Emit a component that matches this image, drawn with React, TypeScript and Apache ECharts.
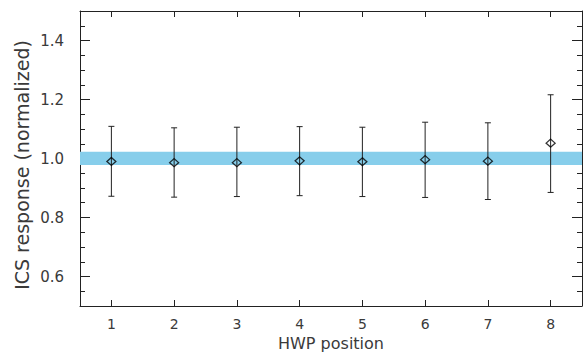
import React, { useEffect, useRef } from "react";
import * as echarts from "echarts";

const positions = ["1", "2", "3", "4", "5", "6", "7", "8"];
const responses = [0.990, 0.986, 0.986, 0.992, 0.989, 0.996, 0.991, 1.052];
const errUpper = [1.109, 1.104, 1.106, 1.108, 1.106, 1.123, 1.121, 1.216];
const errLower = [0.872, 0.869, 0.871, 0.874, 0.871, 0.868, 0.861, 0.885];
const bandRange = [0.978, 1.023];
const yTickLabels = ["0.6", "0.8", "1.0", "1.2", "1.4"];
const xTitle = "HWP position";
const yTitle = "ICS response (normalized)";

const FONT = "DejaVu Sans";
const TEXT = "#3a3a3a";
const AXIS = "#222";

export default function App() {
  const ref = useRef<HTMLDivElement>(null);
  useEffect(() => {
    document.body.style.margin = "0";
    const chart = echarts.init(ref.current!, null, { renderer: "svg" });
    const yCommon = {
      type: "value",
      min: 0.5,
      max: 1.5,
      splitNumber: 5,
      axisLine: { show: true, lineStyle: { color: AXIS, width: 1 } },
      axisTick: { show: true, inside: true, length: 10, lineStyle: { color: AXIS } },
      minorTick: { show: true, splitNumber: 4, length: 5, lineStyle: { color: AXIS } },
      splitLine: { show: false },
      minorSplitLine: { show: false },
    };
    const xCommon = {
      type: "category",
      data: positions,
      boundaryGap: true,
      axisLine: { show: true, lineStyle: { color: AXIS, width: 1 } },
      axisTick: { show: true, inside: true, length: 6, alignWithLabel: true, lineStyle: { color: AXIS } },
      splitLine: { show: false },
    };
    chart.setOption({
      animation: false,
      backgroundColor: "#fff",
      grid: { left: 80, right: 1, top: 11, bottom: 57, containLabel: false },
      graphic: [
        {
          type: "text",
          x: 22,
          y: 165,
          rotation: Math.PI / 2,
          style: {
            text: yTitle,
            fontFamily: FONT,
            fontSize: 19,
            fill: TEXT,
            align: "center",
            verticalAlign: "middle",
          },
        },
      ],
      xAxis: [
        {
          ...xCommon,
          position: "bottom",
          name: xTitle,
          nameLocation: "middle",
          nameGap: 29,
          nameMoveOverlap: false,
          nameTextStyle: { fontFamily: FONT, fontSize: 16, color: TEXT },
          axisLabel: { show: true, margin: 11, fontFamily: FONT, fontSize: 14, color: TEXT },
        },
        {
          ...xCommon,
          position: "top",
          axisLabel: { show: false },
        },
      ],
      yAxis: [
        {
          ...yCommon,
          position: "left",
          axisLabel: {
            show: true,
            margin: 16,
            fontFamily: FONT,
            fontSize: 15,
            color: TEXT,
            showMinLabel: false,
            showMaxLabel: false,
            formatter: (v: number) => {
              const s = v.toFixed(1);
              return yTickLabels.includes(s) ? s : "";
            },
          },
        },
        {
          ...yCommon,
          position: "right",
          axisLabel: { show: false },
        },
      ],
      series: [
        {
          type: "line",
          data: [],
          xAxisIndex: 0,
          yAxisIndex: 0,
          z: 1,
          markArea: {
            silent: true,
            itemStyle: { color: "#87CEEB", opacity: 1 },
            data: [[{ yAxis: bandRange[0] }, { yAxis: bandRange[1] }]],
          },
        },
        {
          type: "custom",
          z: 3,
          data: positions.map((_, i) => [i, errLower[i], errUpper[i]]),
          renderItem: (params: any, api: any) => {
            const x = api.value(0);
            const lo = api.coord([x, api.value(1)]);
            const hi = api.coord([x, api.value(2)]);
            const cap = 3;
            const style = { stroke: "#222", lineWidth: 1 };
            return {
              type: "group",
              children: [
                { type: "line", shape: { x1: hi[0], y1: hi[1], x2: lo[0], y2: lo[1] }, style },
                { type: "line", shape: { x1: hi[0] - cap, y1: hi[1], x2: hi[0] + cap, y2: hi[1] }, style },
                { type: "line", shape: { x1: lo[0] - cap, y1: lo[1], x2: lo[0] + cap, y2: lo[1] }, style },
              ],
            };
          },
        },
        {
          type: "scatter",
          z: 4,
          data: positions.map((_, i) => [i, responses[i]]),
          symbol: "diamond",
          symbolSize: [9, 8],
          itemStyle: { color: "rgba(0,0,0,0)", borderColor: "#000", borderWidth: 1.3 },
        },
      ],
    });
    return () => chart.dispose();
  }, []);
  return <div ref={ref} style={{ width: 583, height: 363 }} />;
}
